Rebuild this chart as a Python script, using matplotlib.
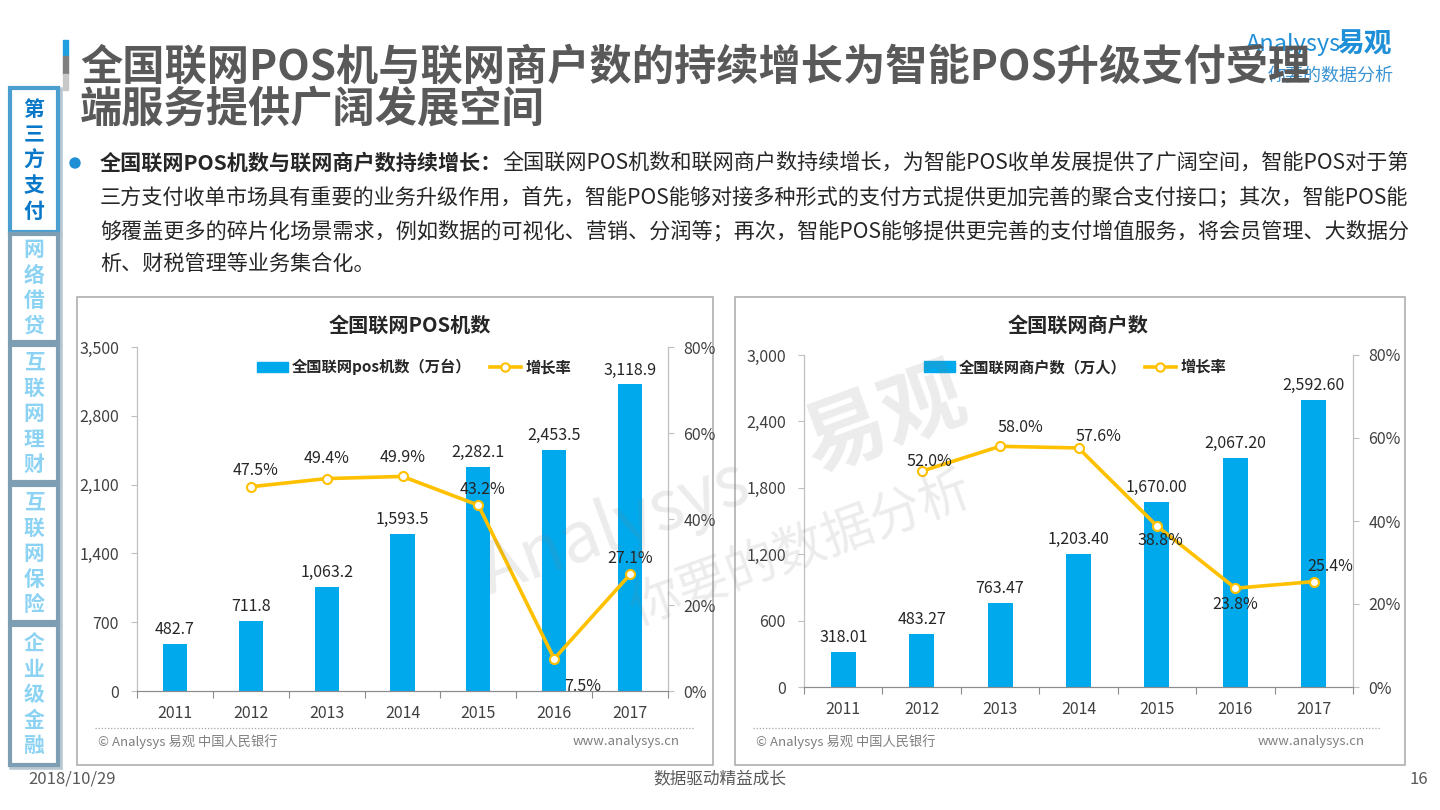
import matplotlib
matplotlib.use('Agg')
import matplotlib.pyplot as plt
from matplotlib.patches import Rectangle, Patch, Circle
from matplotlib.lines import Line2D
import numpy as np

plt.rcParams['font.family'] = ['Noto Sans CJK SC', 'DejaVu Sans']

# ---------------- data ----------------
years = ['2011', '2012', '2013', '2014', '2015', '2016', '2017']
pos_counts = [482.7, 711.8, 1063.2, 1593.5, 2282.1, 2453.5, 3118.9]
pos_growth = [np.nan, 47.5, 49.4, 49.9, 43.2, 7.5, 27.1]
merchant_counts = [318.01, 483.27, 763.47, 1203.40, 1670.00, 2067.20, 2592.60]
merchant_growth = [np.nan, 52.0, 58.0, 57.6, 38.8, 23.8, 25.4]
pos_yticks = [0, 700, 1400, 2100, 2800, 3500]
merchant_yticks = [0, 600, 1200, 1800, 2400, 3000]
pct_ticks = [0, 20, 40, 60, 80]

title_lines = ['全国联网POS机与联网商户数的持续增长为智能POS升级支付受理',
               '端服务提供广阔发展空间']
para_bold = '全国联网POS机数与联网商户数持续增长：'
para_lines = ['全国联网POS机数和联网商户数持续增长，为智能POS收单发展提供了广阔空间，智能POS对于第',
              '三方支付收单市场具有重要的业务升级作用，首先，智能POS能够对接多种形式的支付方式提供更加完善的聚合支付接口；其次，智能POS能',
              '够覆盖更多的碎片化场景需求，例如数据的可视化、营销、分润等；再次，智能POS能够提供更完善的支付增值服务，将会员管理、大数据分',
              '析、财税管理等业务集合化。']
tab_names = ['第三方支付', '网络借贷', '互联网理财', '互联网保险', '企业级金融']

# ---------------- styles ----------------
W, H = 1440, 810
BAR = '#00A8EC'
LINE = '#FFC000'
AXC = '#BFBFBF'
TXT = '#404040'

fig = plt.figure(figsize=(W / 100, H / 100), dpi=100)
bg = fig.add_axes([0, 0, 1, 1])
bg.set_xlim(0, W)
bg.set_ylim(H, 0)
bg.axis('off')


def frac(x0, y0, x1, y1):
    return [x0 / W, 1 - y1 / H, (x1 - x0) / W, (y1 - y0) / H]


# ---------------- logo (drawn under title) ----------------
bg.text(1246, 45, 'Analysys', fontsize=17, style='italic', color='#1F8FD8',
        ha='left', va='center', zorder=1)
bg.text(1336, 45, '易观', fontsize=20, weight='bold', color='#1F8FD8',
        ha='left', va='center', zorder=1)
bg.text(1268, 76, '你要的数据分析', fontsize=13, style='italic', color='#3A93D3',
        ha='left', va='center', zorder=1)

# ---------------- title ----------------
bg.add_patch(Rectangle((63, 40), 5, 16, color='#1E9FE0', zorder=2))
bg.add_patch(Rectangle((63, 56), 5, 18, color='#7F7F7F', zorder=2))
bg.add_patch(Rectangle((63, 74), 5, 16, color='#C8C8C8', zorder=2))
for i, line in enumerate(title_lines):
    bg.text(80, 68 + 42 * i, line, fontsize=30.4, weight='bold', color='#595959',
            ha='left', va='center', zorder=5)

# ---------------- sidebar tabs ----------------
tab_spans = [(88, 232), (234, 342), (345, 482), (485, 622), (625, 765)]
for k, (name, (ya, yb)) in enumerate(zip(tab_names, tab_spans)):
    active = k == 0
    bg.add_patch(Rectangle((12, ya + 2), 48, yb - ya, facecolor='none',
                           edgecolor='#B8C8D2', lw=4, zorder=1))
    bg.add_patch(Rectangle((10, ya), 48, yb - ya, facecolor='white',
                           edgecolor='#4A9FD0' if active else '#7E9FB3',
                           lw=3, zorder=2))
    n = len(name)
    mid = (ya + yb) / 2
    for j, ch in enumerate(name):
        bg.text(34, mid + (j - (n - 1) / 2) * 25.5, ch, fontsize=15, weight='bold',
                color='#0A78C8' if active else '#8CD3F3',
                ha='center', va='center', zorder=3)

# ---------------- paragraph ----------------
bg.add_patch(Circle((75, 163), 5, color='#1E8FD5'))
ty = [163, 197, 231, 265]
t1 = bg.text(100, ty[0], para_bold, fontsize=15.2, weight='bold', color='#262626',
             ha='left', va='center')
bg.annotate(para_lines[0], xy=(1, 0.5), xycoords=t1, fontsize=15.2, color='#262626',
            ha='left', va='center')
for i in range(1, 4):
    bg.text(100, ty[i], para_lines[i], fontsize=15.2, color='#262626',
            ha='left', va='center')

# ---------------- chart panels ----------------
def panel(box, ax_rect, counts, growth, yticks, fmt, title, title_xy,
          leg_label, leg_xy, offsets, dot_span):
    bx0, by0, bx1, by1 = box
    bg.add_patch(Rectangle((bx0, by0), bx1 - bx0, by1 - by0, facecolor='white',
                           edgecolor='#AFAFAF', lw=1.2, zorder=0.5))
    bg.text(title_xy[0], title_xy[1], title, fontsize=14.5, weight='bold',
            color='#262626', ha='center', va='center')
    bg.plot(dot_span, [728, 728], ls=(0, (1, 1.5)), color='#A6A6A6', lw=0.9)
    bg.text(dot_span[0] + 3, 742, '© Analysys 易观 中国人民银行', fontsize=9.5,
            color='#7F7F7F', ha='left', va='center')
    bg.text(ax_rect[2] + 12, 741, 'www.analysys.cn', fontsize=9.5,
            color='#7F7F7F', ha='right', va='center')

    ax = fig.add_axes(frac(*ax_rect))
    ax.set_facecolor('none')
    x = np.arange(len(years))
    ax.bar(x, counts, width=0.32, color=BAR, zorder=2)
    ax.set_xlim(-0.5, len(years) - 0.5)
    ax.set_ylim(yticks[0], yticks[-1])
    ax.set_yticks(yticks)
    ax.set_yticklabels([f'{v:,}' for v in yticks])
    ax.tick_params(axis='y', length=4, width=0.8, color=AXC, pad=9,
                   labelsize=11.5, labelcolor=TXT)
    ax.set_xticks(np.arange(-0.5, len(years), 1))
    ax.tick_params(axis='x', which='major', length=5, width=0.8, color='#8C8C8C',
                   labelbottom=False)
    ax.set_xticks(x, minor=True)
    ax.set_xticklabels(years, minor=True)
    ax.tick_params(axis='x', which='minor', length=0, pad=10, labelsize=11.5,
                   labelcolor=TXT)
    for s in ['left', 'right']:
        ax.spines[s].set_color(AXC)
    ax.spines['bottom'].set_color('#8C8C8C')
    ax.spines['top'].set_visible(False)
    for xi, v in zip(x, counts):
        ax.annotate(fmt.format(v), (xi, v), xytext=(0, 6), textcoords='offset pixels',
                    ha='center', va='bottom', fontsize=11.5, color='#262626')

    ax2 = ax.twinx()
    ax2.plot(x, growth, color=LINE, lw=2.6, marker='o', ms=6.5, mfc='white',
             mec=LINE, mew=1.5, zorder=3)
    ax2.set_ylim(pct_ticks[0], pct_ticks[-1])
    ax2.set_yticks(pct_ticks)
    ax2.set_yticklabels([f'{v}%' for v in pct_ticks])
    ax2.tick_params(axis='y', length=4, width=0.8, color=AXC, pad=7,
                    labelsize=11.5, labelcolor=TXT)
    for s in ['left', 'right']:
        ax2.spines[s].set_color(AXC)
    ax2.spines['bottom'].set_color('#8C8C8C')
    ax2.spines['top'].set_visible(False)
    for xi, g, off in zip(x, growth, offsets):
        if np.isnan(g):
            continue
        ax2.annotate(f'{g:.1f}%', (xi, g), xytext=off, textcoords='offset pixels',
                     ha='center', va='center', fontsize=11.5, color='#262626')

    handles = [Patch(color=BAR),
               Line2D([], [], color=LINE, lw=2.6, marker='o', ms=6, mfc='white',
                      mec=LINE, mew=1.5)]
    fig.legend(handles, [leg_label, '增长率'], loc='center',
               bbox_to_anchor=(leg_xy[0] / W, 1 - leg_xy[1] / H), ncol=2,
               frameon=False, prop={'weight': 'bold', 'size': 11},
               handlelength=2.0, handleheight=0.7, columnspacing=1.2,
               handletextpad=0.3, labelcolor='#262626')
    return ax


panel((77, 297, 713, 765), (137, 347, 668, 691), pos_counts, pos_growth,
      pos_yticks, '{:,.1f}', '全国联网POS机数', (410, 325),
      '全国联网pos机数（万台）', (414, 367),
      [None, (5, 16), (0, 20), (0, 19), (4, 16), (29, -28), (0, 16)],
      [95, 695])
panel((735, 297, 1405, 765), (804, 355, 1353, 687), merchant_counts, merchant_growth,
      merchant_yticks, '{:,.2f}', '全国联网商户数', (1078, 325),
      '全国联网商户数（万人）', (1075, 367),
      [None, (8, 10), (20, 19), (20, 11), (3, -15), (0, -16), (16, 15)],
      [753, 1380])

# ---------------- watermark ----------------
wm = dict(color='#808080', alpha=0.15, rotation=20, ha='center', va='center', zorder=10)
fig.text(885 / W, 1 - 420 / H, '易观', fontsize=60, weight='bold', **wm)
fig.text(615 / W, 1 - 528 / H, 'Analysys', fontsize=50, style='italic', **wm)
fig.text(800 / W, 1 - 550 / H, '你要的数据分析', fontsize=37, style='italic', **wm)

# ---------------- footer ----------------
bg.text(28, 779, '2018/10/29', fontsize=12, color='#595959', ha='left', va='center')
bg.text(720, 779, '数据驱动精益成长', fontsize=12, color='#595959', ha='center', va='center')
bg.text(1428, 779, '16', fontsize=12, color='#595959', ha='right', va='center')

fig.savefig('out.png', dpi=100)
